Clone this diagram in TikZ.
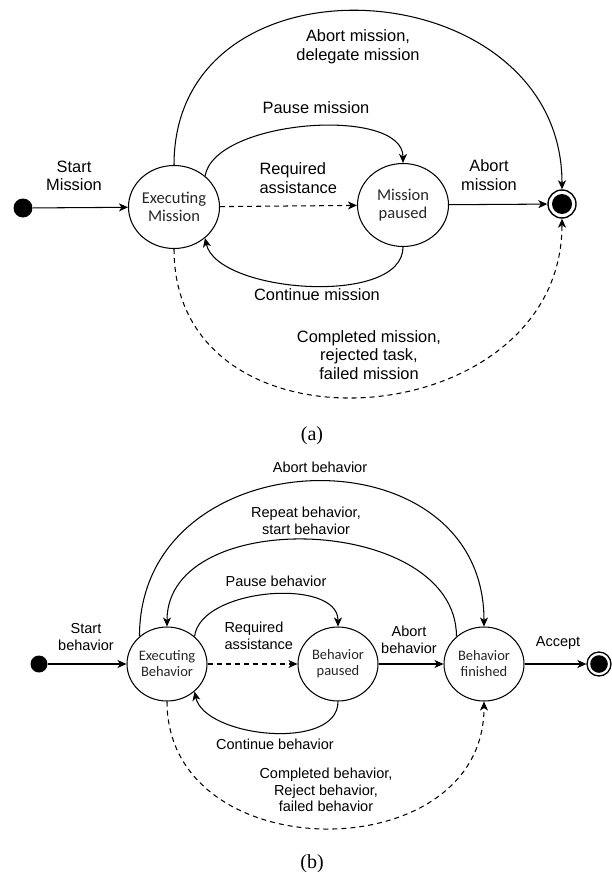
\documentclass[tikz,border=0pt]{standalone}
\usepackage{fontspec}
\setmainfont{Liberation Serif}
\newfontfamily\labfont{Liberation Sans}
\newfontfamily\statefont{Carlito}
\usetikzlibrary{arrows.meta,shapes.geometric}
\begin{document}
\begin{tikzpicture}[x=1pt,y=-1pt,line width=1.05pt,
  arr/.style={-{Stealth[length=9pt,width=8pt,inset=2.5pt]}},
  dsh/.style={dash pattern=on 5pt off 4pt},
  stA/.style={draw,ellipse,minimum width=91pt,minimum height=83pt,inner sep=0pt,align=center,
    font=\statefont\fontsize{16.5}{18}\selectfont,text=black!85},
  stB/.style={draw,ellipse,minimum width=80pt,minimum height=74pt,inner sep=0pt,align=center,
    font=\statefont\fontsize{14.5}{16}\selectfont,text=black!85},
  labA/.style={align=center,inner sep=0pt,font=\labfont\fontsize{16.4}{18.5}\selectfont},
  labB/.style={align=center,inner sep=0pt,font=\labfont\fontsize{14.5}{16.5}\selectfont},
  initA/.style={circle,fill=black,minimum size=19pt,inner sep=0pt},
  initB/.style={circle,fill=black,minimum size=17pt,inner sep=0pt},
  finA/.style={circle,draw,line width=1.4pt,minimum size=28pt,inner sep=0pt},
  finB/.style={circle,draw,line width=1.3pt,minimum size=24pt,inner sep=0pt},
  capt/.style={inner sep=0pt,font=\fontsize{20}{22}\selectfont}
]
\useasboundingbox (0,0) rectangle (612,872);

% ---------------- (a) ----------------
\node[initA] (sa) at (23,208) {};
\node[stA] (ea) at (174,207) {Executing\\Mission};
\node[stA] (pa) at (403,205) {Mission\\paused};
\node[finA] (fa) at (562,204) {};
\fill (fa.center) circle[radius=10pt];

\draw[arr] (sa) -- (ea);
\draw[arr,dsh] (ea) -- (pa);
\draw[arr] (pa) -- (fa);
\draw[arr] (ea.north) .. controls +(0,-221) and +(0,-221) .. (fa.north);
\draw[arr] (ea.45) .. controls +(10,-57) and +(0,-57) .. (pa.north);
\draw[arr] (pa.south) .. controls +(0,60) and +(12,55) .. (ea.-45);
\draw[arr,dsh] (ea.south) .. controls +(0,217) and +(0,217) .. (fa.south);

\node[labA] (la1) at (74,176) {Start\\Mission};
\node[labA,align=left,anchor=west] (la2) at (259,178) {Required\\assistance};
\node[labA] (la3) at (316,108) {Pause mission};
\node[labA] (la4) at (358,47) {Abort mission,\\delegate mission};
\node[labA] (la5) at (489,175) {Abort\\mission};
\node[labA] (la6) at (317,295) {Continue mission};
\node[labA] (la7) at (369,355) {Completed mission,\\rejected task,\\failed mission};
\node[capt] (ca) at (312,436) {(a)};

% ---------------- (b) ----------------
\node[initB] (sb) at (39,664) {};
\node[stB] (eb) at (167,664) {Executing\\Behavior};
\node[stB] (pb) at (338,664) {Behavior\\paused};
\node[stB] (fb) at (484,664) {Behavior\\finished};
\node[finB] (fbb) at (599,664) {};
\fill (fbb.center) circle[radius=8.8pt];

\draw[arr] (sb) -- (eb);
\draw[arr,dsh] (eb) -- (pb);
\draw[arr] (pb) -- (fb);
\draw[arr] (fb) -- (fbb);
\draw[arr] (eb.135) .. controls +(0,-200) and +(0,-200) .. (fb.north);
\draw[arr] (fb.135) .. controls +(0,-122) and +(0,-122) .. (eb.north);
\draw[arr] (eb.45) .. controls +(6,-49) and +(0,-49) .. (pb.north);
\draw[arr] (pb.south) .. controls +(0,50) and +(10,46) .. (eb.-45);
\draw[arr,dsh] (eb.south) .. controls +(0,169) and +(0,169) .. (fb.south);

\node[labB] (lb1) at (320,467) {Abort behavior};
\node[labB] (lb2) at (306,521) {Repeat behavior,\\start behavior};
\node[labB] (lb3) at (276,581) {Pause behavior};
\node[labB] (lb4) at (86,637) {Start\\behavior};
\node[labB,align=left,anchor=west] (lb5) at (224,636) {Required\\assistance};
\node[labB] (lb6) at (409,640) {Abort\\behavior};
\node[labB] (lb7) at (558,643) {Accept};
\node[labB] (lb8) at (275,744) {Continue behavior};
\node[labB] (lb9) at (326,790) {Completed behavior,\\Reject behavior,\\failed behavior};
\node[capt] (cb) at (312,864) {(b)};
\end{tikzpicture}
\end{document}
